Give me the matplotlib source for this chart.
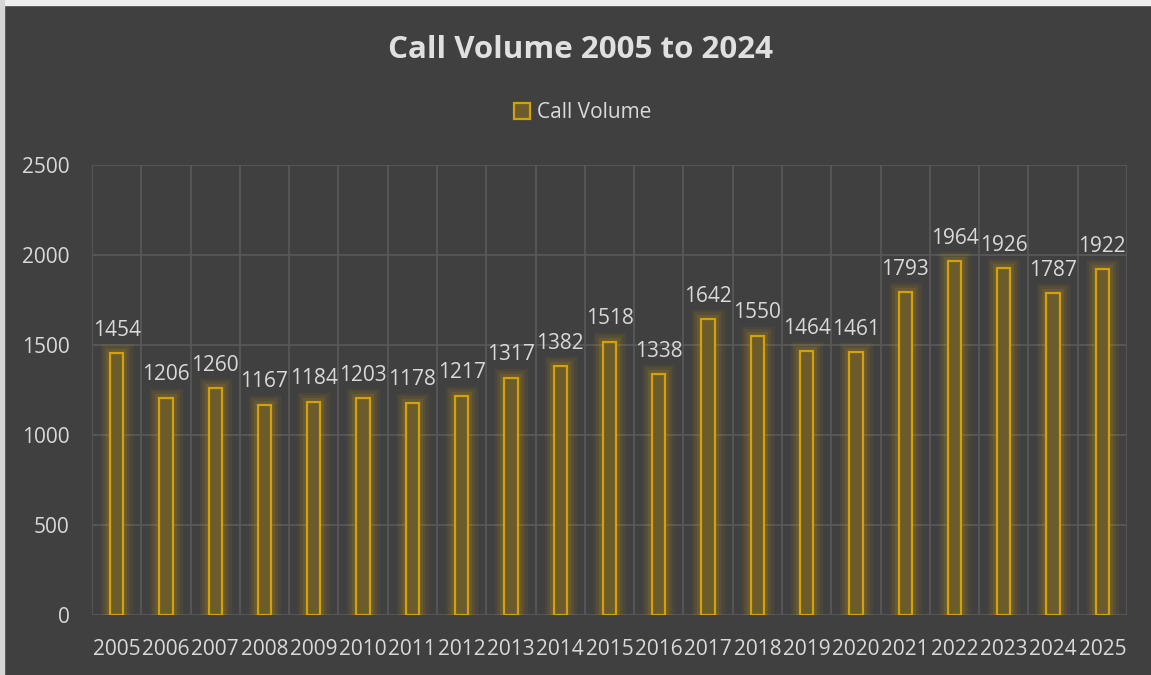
import numpy as np
import matplotlib.pyplot as plt
from matplotlib.patches import Rectangle

# data
years = ["2005", "2006", "2007", "2008", "2009", "2010", "2011", "2012", "2013", "2014",
         "2015", "2016", "2017", "2018", "2019", "2020", "2021", "2022", "2023", "2024", "2025"]
calls = [1454, 1206, 1260, 1167, 1184, 1203, 1178, 1217, 1317, 1382,
         1518, 1338, 1642, 1550, 1464, 1461, 1793, 1964, 1926, 1787, 1922]
yticks = [0, 500, 1000, 1500, 2000, 2500]

bg = "#404040"
gold = "#d4a00c"
fill = "#6c5c2c"
txt = "#d9d9d9"
grid = "#5a5a5a"

plt.rcParams["font.family"] = ["Open Sans", "DejaVu Sans"]

fig = plt.figure(figsize=(11.51, 6.75), dpi=100, facecolor=bg)
ax = fig.add_axes([92 / 1151, 60 / 675, (1127 - 92) / 1151, (615 - 165) / 675])
ax.set_facecolor(bg)

x = np.arange(len(years))
w = 0.27

# soft glow around the bars
for lw, a in [(14, 0.07), (10, 0.09), (6, 0.14)]:
    ax.bar(x, calls, width=w, color="none", edgecolor=(0.83, 0.63, 0.05, a), linewidth=lw, zorder=2)
bars = ax.bar(x, calls, width=w, color=fill, edgecolor=gold, linewidth=1.6, zorder=3,
              label="Call Volume")

for xi, v in zip(x, calls):
    ax.annotate(str(v), (xi, v), xytext=(0, 9), textcoords="offset points",
                ha="center", va="bottom", color=txt, fontsize=15)

ax.set_xlim(-0.5, len(years) - 0.5)
ax.set_ylim(0, 2500)
ax.set_yticks(yticks)
ax.set_xticks(x)
ax.set_xticklabels(years)
ax.set_xticks(np.arange(len(years) + 1) - 0.5, minor=True)
ax.tick_params(axis="both", which="both", length=0, colors=txt, labelsize=15)
ax.tick_params(axis="y", pad=16)
ax.tick_params(axis="x", pad=17)
ax.grid(True, axis="y", color=grid, linewidth=1.2, zorder=0)
ax.grid(True, axis="x", which="minor", color=grid, linewidth=1.2, zorder=0)
ax.grid(False, axis="x", which="major")
for s in ax.spines.values():
    s.set_visible(False)

fig.text(0.504, 1 - 50 / 675, "Call Volume 2005 to 2024", ha="center", va="center",
         fontsize=22.5, fontweight="bold", color="#e0e0e0")
leg = fig.legend(handles=[bars], loc="center", bbox_to_anchor=(0.506, 1 - 113 / 675),
                 frameon=False, fontsize=15, labelcolor=txt, handlelength=0.8,
                 handleheight=0.8, handletextpad=0.3)

# screenshot edges
fig.patches.append(Rectangle((0, 1 - 5 / 675), 1, 5 / 675, transform=fig.transFigure,
                             color="#eeeeee", zorder=5))
fig.patches.append(Rectangle((0, 0), 4 / 1151, 1, transform=fig.transFigure,
                             color="#d6d6d6", zorder=5))

plt.savefig("out.png", dpi=100, facecolor=bg)
